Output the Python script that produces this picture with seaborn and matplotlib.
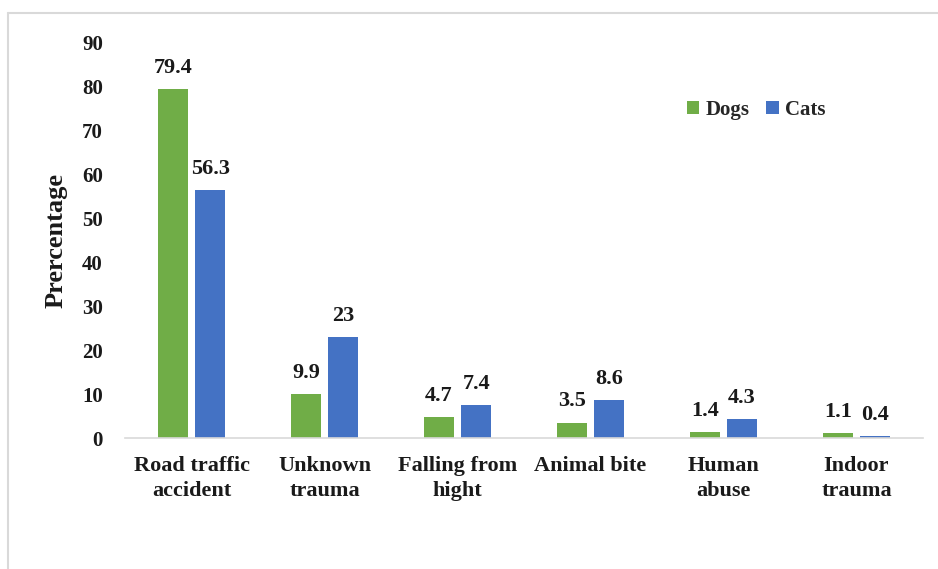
import matplotlib
matplotlib.use("Agg")
import matplotlib.pyplot as plt
from matplotlib.lines import Line2D
import seaborn as sns
import pandas as pd

# Trauma causes and percentage of cases per species
causes = ["Road traffic\naccident", "Unknown\ntrauma", "Falling from\nhight",
          "Animal bite", "Human\nabuse", "Indoor\ntrauma"]
dogs = [79.4, 9.9, 4.7, 3.5, 1.4, 1.1]
cats = [56.3, 23, 7.4, 8.6, 4.3, 0.4]
species = ["Dogs", "Cats"]
y_ticks = [0, 10, 20, 30, 40, 50, 60, 70, 80, 90]

colors = {"Dogs": "#70AD47", "Cats": "#4472C4"}

df = pd.DataFrame({
    "cause": causes * 2,
    "species": ["Dogs"] * len(causes) + ["Cats"] * len(causes),
    "pct": dogs + cats,
})

sns.set_style("white")
plt.rcParams["font.family"] = ["Liberation Serif", "DejaVu Serif"]
plt.rcParams["font.weight"] = "bold"

fig = plt.figure(figsize=(9.38, 5.69), dpi=100)
ax = fig.add_axes([125 / 938, 1 - 438 / 569, 798 / 938, 396 / 569])

sns.barplot(data=df, x="cause", y="pct", hue="species", hue_order=species,
            palette=colors, width=0.56, gap=0.2, ax=ax, saturation=1,
            edgecolor="none")

for cont, vals in zip(ax.containers, [dogs, cats]):
    ax.bar_label(cont, labels=[f"{v:g}" for v in vals], padding=8,
                 fontsize=16, fontweight="bold", color="#1a1a1a")

ax.set_ylim(0, 90)
ax.set_xlim(-0.5, 5.5)
ax.set_yticks(y_ticks)
ax.tick_params(axis="y", length=0, pad=16, labelsize=15)
ax.tick_params(axis="x", length=0, pad=13, labelsize=16)
for lab in ax.get_xticklabels():
    lab.set_fontweight("bold")
    lab.set_color("#1a1a1a")
    lab.set_linespacing(1.35)
for lab in ax.get_yticklabels():
    lab.set_fontweight("bold")
    lab.set_color("#1a1a1a")
ax.set_xlabel("")
ax.set_ylabel("Prercentage", fontsize=19, fontweight="bold", color="#1a1a1a",
              labelpad=10)

for side in ["top", "right", "left"]:
    ax.spines[side].set_visible(False)
ax.spines["bottom"].set_color("#D9D9D9")
ax.spines["bottom"].set_linewidth(1.2)

ax.legend(loc="center", bbox_to_anchor=(0.806, 0.807),
          bbox_transform=fig.transFigure, ncol=2, frameon=False,
          handlelength=0.6, handleheight=0.6, columnspacing=0.8,
          handletextpad=0.3, prop={"size": 15, "weight": "bold"})

# Light frame on the top and left edges of the figure
fig.add_artist(Line2D([8 / 938, 8 / 938], [0, 1 - 13 / 569],
                      transform=fig.transFigure, color="#D9D9D9", lw=1.5))
fig.add_artist(Line2D([8 / 938, 1], [1 - 13 / 569, 1 - 13 / 569],
                      transform=fig.transFigure, color="#D9D9D9", lw=1.5))

fig.savefig("out.png", dpi=100)
